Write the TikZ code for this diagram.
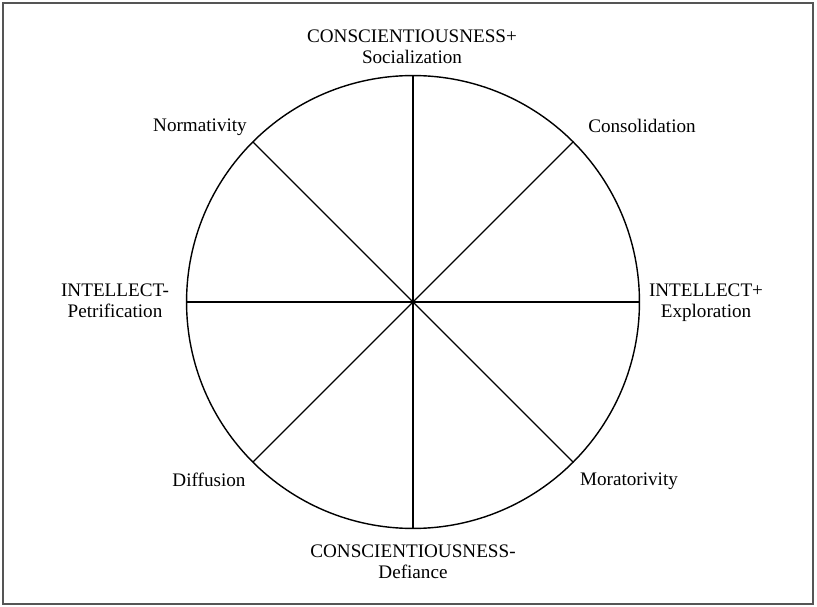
\documentclass[tikz,border=0pt]{standalone}
\usepackage{fontspec}
\setmainfont{Liberation Serif}
\usetikzlibrary{shapes.geometric, positioning, calc}
\definecolor{frameGray}{HTML}{555555}
\tikzset{
  wheelnode/.style={circle, draw, line width=0.8pt, minimum size=9.06cm,
    inner sep=0pt, outer sep=0pt},
  spoke/.style={line width=0.75pt, draw=black},
  lbl/.style={align=center, font=\fontsize{10.9}{12}\selectfont, inner sep=1pt},
}
\begin{document}
\begin{tikzpicture}[x=0.02cm, y=-0.02cm]

  % ---- canvas and outer frame ---------------------------------------------
  \useasboundingbox (0,0) rectangle (817,607);
  \draw[frameGray, line width=0.8pt] (3,3) rectangle (813,604);

  % ---- the wheel -------------------------------------------------------------
  \node[wheelnode] (wheel) at (413,302) {};

  \draw[spoke] (wheel.90)  -- (wheel.270);
  \draw[spoke] (wheel.0)   -- (wheel.180);
  \draw[spoke] (wheel.45)  -- (wheel.225);
  \draw[spoke] (wheel.135) -- (wheel.315);

  % ---- dimension labels -------------------------------------------------------
  \node[lbl] (consP)  at (412,47)  {CONSCIENTIOUSNESS+\\Socialization};
  \node[lbl] (consM)  at (413,562) {CONSCIENTIOUSNESS-\\Defiance};
  \node[lbl] (intP)   at (706,303) {INTELLECT+\\Exploration};
  \node[lbl] (intM)   at (115,301) {INTELLECT-\\Petrification};

  % ---- diagonal labels --------------------------------------------------------
  \node[lbl] (consol) at (642,126) {Consolidation};
  \node[lbl] (norm)   at (200,127) {Normativity};
  \node[lbl] (diff)   at (209,480) {Diffusion};
  \node[lbl] (morat)  at (629,481) {Moratorivity};

\end{tikzpicture}
\end{document}
